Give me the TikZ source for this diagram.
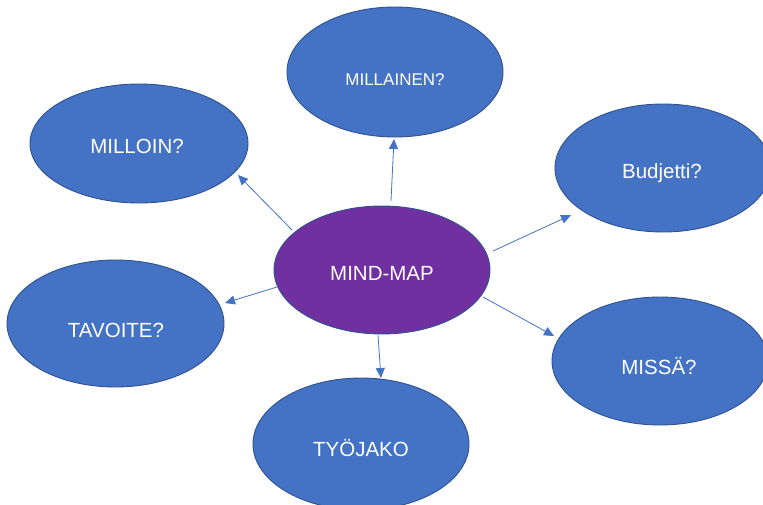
\documentclass[tikz,border=0pt]{standalone}
\usepackage{fontspec}
\setmainfont{Liberation Sans}
\usetikzlibrary{shapes.geometric,arrows.meta}
\definecolor{fillblue}{HTML}{4472C4}
\definecolor{edgeblue}{HTML}{2F528F}
\definecolor{mmpurple}{HTML}{7030A0}
\tikzset{
  bubble/.style={ellipse, draw=edgeblue, line width=0.9pt, fill=fillblue, inner sep=0pt,
    minimum width=216pt, minimum height=128pt},
  hub/.style={bubble, fill=mmpurple},
  lbl/.style={text=white, font=\fontsize{20.5pt}{24pt}\selectfont, inner sep=0pt},
  lblsmall/.style={lbl, font=\fontsize{17pt}{20pt}\selectfont},
  arr/.style={draw=fillblue, line width=0.8pt, -{Triangle[length=10pt,width=9pt]}}
}
\begin{document}
\begin{tikzpicture}[x=1pt,y=-1pt]
\useasboundingbox (0,0) rectangle (763,504);
\clip (0,0) rectangle (763,504);
\fill[white] (0,0) rectangle (763,504);
% ellipses
\node[bubble, minimum height=130pt] (millainen) at (395,72) {};
\node[bubble, minimum width=218pt, minimum height=119pt] (milloin) at (139,143.5) {};
\node[bubble] (budjetti) at (663,168) {};
\node[hub] (mm) at (382,270) {};
\node[bubble, minimum width=217pt, minimum height=127pt] (tavoite) at (115.5,323.5) {};
\node[bubble] (missa) at (660,361) {};
\node[bubble, minimum width=216pt, minimum height=132pt] (tyojako) at (361,444) {};
% texts
\node[lblsmall] (millainen-t) at (395,80) {MILLAINEN?};
\node[lbl] (milloin-t) at (137,146) {MILLOIN?};
\node[lbl] (budjetti-t) at (662,173) {Budjetti?};
\node[lbl] (mm-t) at (382,273) {MIND-MAP};
\node[lbl] (tavoite-t) at (116,330) {TAVOITE?};
\node[lbl] (missa-t) at (659,366) {MISSÄ?};
\node[lbl] (tyojako-t) at (361,448) {TYÖJAKO};
% connector end points
\coordinate (s1) at (292,230); \coordinate (e1) at (238,175);
\coordinate (s2) at (391,201); \coordinate (e2) at (394,139);
\coordinate (s3) at (493,251); \coordinate (e3) at (571,215);
\coordinate (s4) at (277,287); \coordinate (e4) at (225,303);
\coordinate (s5) at (483,297); \coordinate (e5) at (554,336);
\coordinate (s6) at (378,335); \coordinate (e6) at (381,378);
\draw[arr] (s1) -- (e1);
\draw[arr] (s2) -- (e2);
\draw[arr] (s3) -- (e3);
\draw[arr] (s4) -- (e4);
\draw[arr] (s5) -- (e5);
\draw[arr] (s6) -- (e6);
\end{tikzpicture}
\end{document}
